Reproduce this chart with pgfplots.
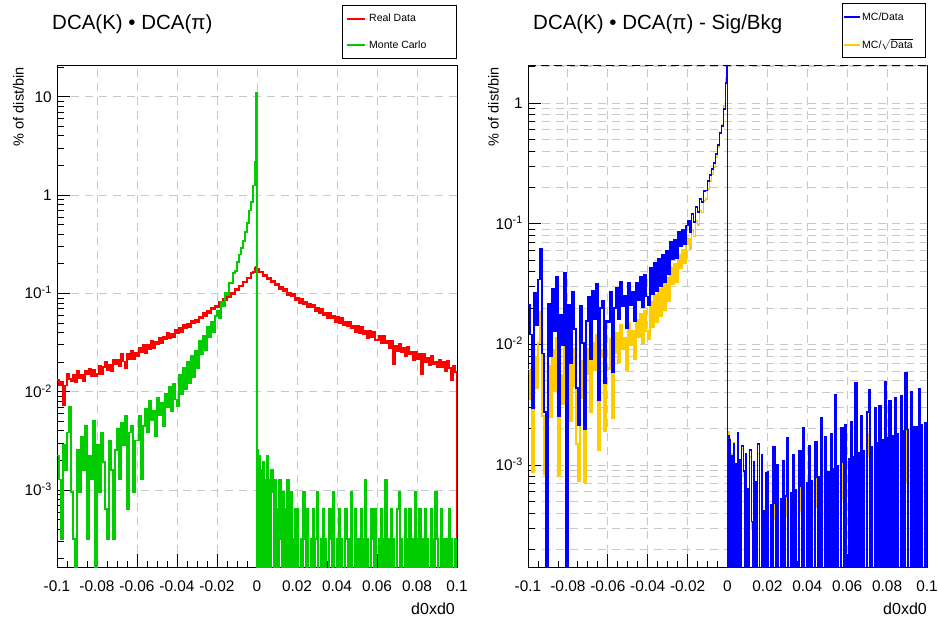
\documentclass[border=0pt]{standalone}
\usepackage{fontspec}
\setmainfont{Liberation Sans}
\usepackage{pgfplots}
\pgfplotsset{compat=1.18}
\usepackage{pgfplotstable}

\definecolor{rootred}{RGB}{255,0,0}
\definecolor{rootgreen}{RGB}{0,204,0}
\definecolor{rootblue}{RGB}{0,0,255}
\definecolor{rootyellow}{RGB}{255,204,0}
\definecolor{gridgray}{RGB}{200,200,200}

% bin low edge, Real Data, Monte Carlo, MC/Data, MC/sqrt(Data)
\pgfplotstableread{
x red mc ratio sratio
-0.100 0.0132 0.00224 0.02134 0.00618
-0.099 0.0117 0.00128 0.01205 0.00351
-0.098 0.0125 0.00032 0.002977 0.000873
-0.097 0.0074 0.00288 0.02646 0.00781
-0.096 0.0116 0.0016 0.01453 0.00431
-0.095 0.0151 0.00384 0.03444 0.01029
-0.094 0.0135 0.00704 0.06239 0.01874
-0.093 0.0129 0.00096 0.00841 0.00254
-0.092 0.0150 0.00032 0.002769 0.000842
-0.091 0.0126 1e-6 1e-6 1e-6
-0.090 0.0163 0.00256 0.02163 0.00666
-0.089 0.0138 0.00096 0.00801 0.00248
-0.088 0.0150 0.00352 0.02897 0.00903
-0.087 0.0129 0.0016 0.0130 0.00408
-0.086 0.0163 0.00448 0.03591 0.01134
-0.085 0.0150 0.00032 0.002531 0.000805
-0.084 0.0172 0.00224 0.01749 0.0056
-0.083 0.0145 0.00128 0.00986 0.00318
-0.082 0.0167 0.00512 0.03893 0.01262
-0.081 0.0146 1e-6 1e-6 1e-6
-0.080 0.0152 0.00288 0.02133 0.00701
-0.079 0.0182 0.00096 0.00696 0.00231
-0.078 0.0150 0.00384 0.02726 0.00915
-0.077 0.0180 0.00192 0.01335 0.00453
-0.076 0.0201 0.00064 0.004358 0.001493
-0.075 0.0166 0.00032 0.002133 0.000739
-0.074 0.0186 0.0032 0.02089 0.00731
-0.073 0.0161 0.0016 0.01023 0.00362
-0.072 0.0213 0.00032 0.002003 0.000716
-0.071 0.0190 0.00256 0.01569 0.00567
-0.070 0.0212 0.00416 0.02496 0.00911
-0.069 0.0184 0.00128 0.00751 0.00277
-0.068 0.0243 0.0048 0.02754 0.01028
-0.067 0.0203 0.00288 0.01616 0.0061
-0.066 0.0175 0.00576 0.03161 0.01207
-0.065 0.0241 0.00064 0.003434 0.001326
-0.064 0.0213 0.00384 0.02015 0.00787
-0.063 0.0262 0.00448 0.02299 0.00908
-0.062 0.0213 0.00096 0.004818 0.001924
-0.061 0.0249 0.0032 0.01571 0.00634
-0.060 0.0233 0.0032 0.01536 0.00627
-0.059 0.0279 0.00576 0.02698 0.01115
-0.058 0.0255 0.00128 0.005848 0.002447
-0.057 0.0302 0.00448 0.01996 0.00846
-0.056 0.0248 0.00672 0.02921 0.01253
-0.055 0.0297 0.00384 0.01628 0.00707
-0.054 0.0273 0.008 0.03313 0.01456
-0.053 0.0327 0.00512 0.02067 0.0092
-0.052 0.0280 0.0064 0.02522 0.01136
-0.051 0.0325 0.00352 0.01353 0.00617
-0.050 0.0304 0.00864 0.0324 0.01497
-0.049 0.0351 0.00576 0.02108 0.00986
-0.048 0.0313 0.00768 0.02741 0.01298
-0.047 0.0362 0.00448 0.0156 0.00748
-0.046 0.0346 0.0096 0.03261 0.01583
-0.045 0.0395 0.00704 0.02332 0.01146
-0.044 0.0349 0.0112 0.03619 0.018
-0.043 0.0392 0.0064 0.02018 0.01016
-0.042 0.0359 0.01216 0.03739 0.01907
-0.041 0.0424 0.00832 0.02496 0.01289
-0.040 0.0394 0.0072 0.02107 0.01102
-0.039 0.0442 0.0150 0.04272 0.02264
-0.038 0.0407 0.0094 0.02604 0.01399
-0.037 0.0476 0.0176 0.04743 0.02584
-0.036 0.0449 0.0105 0.02753 0.01521
-0.035 0.0489 0.0201 0.05126 0.02871
-0.034 0.0450 0.0122 0.03027 0.01719
-0.033 0.0527 0.0230 0.05552 0.03196
-0.032 0.0496 0.0141 0.03311 0.01933
-0.031 0.0541 0.0262 0.05984 0.03541
-0.030 0.0513 0.01728 0.0384 0.02304
-0.029 0.0581 0.03275 0.07035 0.04293
-0.028 0.0561 0.02431 0.05047 0.03133
-0.027 0.0634 0.03682 0.07386 0.04664
-0.026 0.0594 0.02652 0.05142 0.03303
-0.025 0.0660 0.04538 0.08504 0.05557
-0.024 0.0630 0.03573 0.06471 0.04301
-0.023 0.0720 0.05095 0.08916 0.06028
-0.022 0.0695 0.04017 0.06793 0.04672
-0.021 0.0749 0.05914 0.09669 0.06764
-0.020 0.0730 0.0667 0.1053 0.07495
-0.019 0.0821 0.0559 0.0850 0.06167
-0.018 0.0796 0.0818 0.1197 0.08852
-0.017 0.0878 0.0738 0.1039 0.07832
-0.016 0.0850 0.1012 0.1371 0.1053
-0.015 0.0966 0.0957 0.1248 0.09774
-0.014 0.0928 0.1274 0.1598 0.1276
-0.013 0.1015 0.1260 0.1520 0.1238
-0.012 0.0994 0.1611 0.1867 0.1551
-0.011 0.1109 0.1690 0.1883 0.1596
-0.010 0.1086 0.2100 0.225 0.1944
-0.009 0.1206 0.2480 0.2541 0.2245
-0.008 0.1175 0.2900 0.2843 0.2568
-0.007 0.1318 0.3400 0.3188 0.2945
-0.006 0.1312 0.4200 0.3764 0.3556
-0.005 0.1428 0.5200 0.4457 0.4306
-0.004 0.1436 0.7000 0.5676 0.5638
-0.003 0.1601 0.8500 0.65 0.665
-0.002 0.1653 1.2500 0.898 0.948
-0.001 0.1818 2.2000 1.47 1.61
-0.0004 0.1850 11.00 7.3 8.0
0.0000 0.1760 1e-6 1e-6 1e-6
0.0004 0.1760 0.00256 0.001744 0.001889
0.0007 0.1760 1e-6 1e-6 1e-6
0.001 0.1646 0.00224 0.0016 0.001693
0.0015 0.1646 1e-6 1e-6 1e-6
0.002 0.1642 0.0016 0.001193 0.001236
0.0025 0.1642 1e-6 1e-6 1e-6
0.003 0.1504 0.00192 0.001486 0.001511
0.0035 0.1504 1e-6 1e-6 1e-6
0.004 0.1545 0.00128 0.001024 0.001024
0.0045 0.1545 1e-6 1e-6 1e-6
0.005 0.1392 0.00224 0.001854 0.001823
0.0055 0.1392 1e-6 1e-6 1e-6
0.006 0.1432 0.00128 0.001105 0.001064
0.0065 0.1432 1e-6 1e-6 1e-6
0.007 0.1313 0.0016 0.001433 0.001355
0.008 0.1342 0.00096 0.000893 0.000828
0.0085 0.1342 1e-6 1e-6 1e-6
0.009 0.1203 0.00128 0.001239 0.001126
0.0095 0.1203 1e-6 1e-6 1e-6
0.010 0.1236 0.00064 0.00064 0.000572
0.0105 0.1236 1e-6 1e-6 1e-6
0.011 0.1116 0.00128 0.001322 0.001164
0.012 0.1170 0.00032 0.000341 0.000296
0.0125 0.1170 1e-6 1e-6 1e-6
0.013 0.1068 0.00096 0.001057 0.000901
0.0135 0.1068 1e-6 1e-6 1e-6
0.014 0.1108 0.00064 0.000728 0.000611
0.0145 0.1108 1e-6 1e-6 1e-6
0.015 0.0971 0.00128 0.001503 0.001241
0.016 0.1009 1e-6 1e-6 1e-6
0.017 0.0929 0.00096 0.001202 0.000961
0.0175 0.0929 1e-6 1e-6 1e-6
0.018 0.0984 0.00032 0.000414 0.000326
0.0185 0.0984 1e-6 1e-6 1e-6
0.019 0.0862 0.00064 0.000855 0.000662
0.0195 0.0862 1e-6 1e-6 1e-6
0.020 0.0905 0.00064 0.000883 0.000672
0.0205 0.0905 1e-6 1e-6 1e-6
0.021 0.0806 1e-6 1e-6 1e-6
0.022 0.0878 0.00032 0.000464 0.000345
0.0225 0.0878 1e-6 1e-6 1e-6
0.023 0.0784 0.00096 0.001426 0.001047
0.024 0.0812 0.00032 0.000487 0.000353
0.0245 0.0812 1e-6 1e-6 1e-6
0.025 0.0723 0.00064 0.000998 0.000715
0.0255 0.0723 1e-6 1e-6 1e-6
0.026 0.0788 1e-6 1e-6 1e-6
0.027 0.0718 0.00032 0.000524 0.000366
0.0275 0.0718 1e-6 1e-6 1e-6
0.028 0.0765 0.00064 0.001075 0.000742
0.0285 0.0765 1e-6 1e-6 1e-6
0.029 0.0662 0.00032 0.000551 0.000376
0.030 0.0714 0.00096 0.001694 0.001141
0.0305 0.0714 1e-6 1e-6 1e-6
0.031 0.0625 1e-6 1e-6 1e-6
0.032 0.0701 0.00032 0.000591 0.000389
0.0325 0.0701 1e-6 1e-6 1e-6
0.033 0.0609 0.00064 0.00121 0.000787
0.0335 0.0609 1e-6 1e-6 1e-6
0.034 0.0633 0.00032 0.000619 0.000398
0.0345 0.0633 1e-6 1e-6 1e-6
0.035 0.0564 1e-6 1e-6 1e-6
0.036 0.0634 0.00064 0.001297 0.000815
0.037 0.0561 0.00032 0.000664 0.000412
0.0375 0.0561 1e-6 1e-6 1e-6
0.038 0.0588 0.00096 0.002037 0.001251
0.0385 0.0588 1e-6 1e-6 1e-6
0.039 0.0508 1e-6 1e-6 1e-6
0.040 0.0572 0.00032 0.000711 0.000427
0.0405 0.0572 1e-6 1e-6 1e-6
0.041 0.0503 0.00064 0.001452 0.000862
0.0415 0.0503 1e-6 1e-6 1e-6
0.042 0.0565 0.00032 0.000741 0.000436
0.0425 0.0565 1e-6 1e-6 1e-6
0.043 0.0472 1e-6 1e-6 1e-6
0.044 0.0517 0.00064 0.001544 0.000889
0.045 0.0468 0.00032 0.000788 0.000449
0.0455 0.0468 1e-6 1e-6 1e-6
0.046 0.0516 0.00032 0.000804 0.000454
0.0465 0.0516 1e-6 1e-6 1e-6
0.047 0.0440 0.00096 0.002463 0.001376
0.0475 0.0440 1e-6 1e-6 1e-6
0.048 0.0472 1e-6 1e-6 1e-6
0.049 0.0409 0.00064 0.00171 0.000936
0.0495 0.0409 1e-6 1e-6 1e-6
0.050 0.0471 0.00032 0.000873 0.000473
0.051 0.0396 1e-6 1e-6 1e-6
0.052 0.0462 0.00064 0.001828 0.000968
0.0525 0.0462 1e-6 1e-6 1e-6
0.053 0.0390 0.00032 0.000935 0.000489
0.0535 0.0390 1e-6 1e-6 1e-6
0.054 0.0417 0.00128 0.003827 0.00198
0.0545 0.0417 1e-6 1e-6 1e-6
0.055 0.0349 0.00032 0.000979 0.000501
0.0555 0.0349 1e-6 1e-6 1e-6
0.056 0.0414 1e-6 1e-6 1e-6
0.057 0.0360 0.00064 0.00205 0.001024
0.058 0.0410 0.00032 0.001049 0.000518
0.0585 0.0410 1e-6 1e-6 1e-6
0.059 0.0333 0.00064 0.002146 0.001048
0.0595 0.0333 1e-6 1e-6 1e-6
0.060 0.0336 1e-6 1e-6 1e-6
0.061 0.0373 0.00032 0.001122 0.000536
0.0615 0.0373 1e-6 1e-6 1e-6
0.062 0.0311 0.00064 0.002294 0.001084
0.0625 0.0311 1e-6 1e-6 1e-6
0.063 0.0367 0.00032 0.001173 0.000548
0.0635 0.0367 1e-6 1e-6 1e-6
0.064 0.0310 0.00128 0.0048 0.002218
0.065 0.0329 1e-6 1e-6 1e-6
0.066 0.0275 0.00032 0.001254 0.000566
0.0665 0.0275 1e-6 1e-6 1e-6
0.067 0.0329 0.00064 0.002566 0.001146
0.0675 0.0329 1e-6 1e-6 1e-6
0.068 0.0193 0.00032 0.001312 0.00058
0.0685 0.0193 1e-6 1e-6 1e-6
0.069 0.0295 1e-6 1e-6 1e-6
0.070 0.0258 0.00064 0.002742 0.001185
0.071 0.0305 0.00096 0.004197 0.001796
0.0715 0.0305 1e-6 1e-6 1e-6
0.072 0.0256 0.00032 0.001426 0.000604
0.0725 0.0256 1e-6 1e-6 1e-6
0.073 0.0280 1e-6 1e-6 1e-6
0.074 0.0230 0.00064 0.002968 0.001233
0.0745 0.0230 1e-6 1e-6 1e-6
0.075 0.0287 0.00032 0.001514 0.000623
0.0755 0.0287 1e-6 1e-6 1e-6
0.076 0.0241 0.00064 0.003086 0.001257
0.077 0.0254 1e-6 1e-6 1e-6
0.078 0.0210 0.00032 0.001605 0.000641
0.0785 0.0210 1e-6 1e-6 1e-6
0.079 0.0256 0.00096 0.004914 0.001943
0.0795 0.0256 1e-6 1e-6 1e-6
0.080 0.0216 0.00032 0.00167 0.000654
0.0805 0.0216 1e-6 1e-6 1e-6
0.081 0.0244 0.00064 0.003396 0.001319
0.082 0.0151 1e-6 1e-6 1e-6
0.083 0.0245 0.00032 0.001754 0.00067
0.0835 0.0245 1e-6 1e-6 1e-6
0.084 0.0200 0.00064 0.003568 0.001352
0.0845 0.0200 1e-6 1e-6 1e-6
0.085 0.0222 0.00032 0.001813 0.000681
0.0855 0.0222 1e-6 1e-6 1e-6
0.086 0.0187 1e-6 1e-6 1e-6
0.087 0.0234 0.00064 0.003748 0.001385
0.0875 0.0234 1e-6 1e-6 1e-6
0.088 0.0193 0.00032 0.001906 0.000699
0.0885 0.0193 1e-6 1e-6 1e-6
0.089 0.0202 0.00096 0.005811 0.002112
0.090 0.0177 0.00032 0.001969 0.00071
0.0905 0.0177 1e-6 1e-6 1e-6
0.091 0.0212 1e-6 1e-6 1e-6
0.092 0.0180 0.00064 0.004048 0.00144
0.0925 0.0180 1e-6 1e-6 1e-6
0.093 0.0200 0.00032 0.002051 0.000725
0.0935 0.0200 1e-6 1e-6 1e-6
0.094 0.0162 0.00032 0.00208 0.00073
0.095 0.0204 1e-6 1e-6 1e-6
0.096 0.0174 0.00064 0.004276 0.00148
0.0965 0.0174 1e-6 1e-6 1e-6
0.097 0.0131 0.00032 0.002167 0.000745
0.0975 0.0131 1e-6 1e-6 1e-6
0.098 0.0184 1e-6 1e-6 1e-6
0.099 0.0160 0.00032 0.002227 0.000755
0.0995 0.0160 1e-6 1e-6 1e-6
0.100 1e-6 1e-6 1e-6 1e-6
}\dca

\newcommand{\tickfont}{\fontsize{15.4}{18}\selectfont}
\newcommand{\legfont}{\fontsize{10.5}{12}\selectfont}

\begin{document}
\begin{tikzpicture}
\path[use as bounding box] (0pt,0pt) rectangle (939pt,621pt);

% ---------- left panel ----------
\begin{axis}[name=L,
  at={(57pt,53.7pt)}, anchor=south west,
  scale only axis, width=400pt, height=501.6pt,
  xmin=-0.1, xmax=0.1,
  ymode=log, ymin=1.64e-4, ymax=20.7,
  xtick={-0.1,-0.08,-0.06,-0.04,-0.02,0,0.02,0.04,0.06,0.08,0.1},
  xticklabels={-0.1,-0.08,-0.06,-0.04,-0.02,0,0.02,0.04,0.06,0.08,0.1},
  minor x tick num=3,
  ytick={1e-3,1e-2,1e-1,1,10},
  yticklabels={10\textsuperscript{-3},10\textsuperscript{-2},10\textsuperscript{-1},1,10},
  minor ytick={2e-4,3e-4,4e-4,5e-4,6e-4,7e-4,8e-4,9e-4,
    2e-3,3e-3,4e-3,5e-3,6e-3,7e-3,8e-3,9e-3,
    0.02,0.03,0.04,0.05,0.06,0.07,0.08,0.09,
    0.2,0.3,0.4,0.5,0.6,0.7,0.8,0.9,2,3,4,5,6,7,8,9,20},
  tick align=inside, tick pos=left,
  major tick length=13pt, minor tick length=6.5pt,
  tick style={black, line width=0.8pt},
  axis line style={black, line width=1pt},
  xmajorgrids, ymajorgrids,
  major grid style={gridgray, line width=1pt, dash pattern=on 8pt off 6pt},
  xticklabel style={font=\tickfont, inner sep=0pt, anchor=north, yshift=-13.4pt},
  yticklabel style={font=\tickfont, inner sep=0pt, anchor=base east, xshift=-5pt, yshift=-5.5pt},
]
\addplot[rootred, const plot, line width=1.8pt] table[x=x, y=red] {\dca};
\addplot[rootgreen, const plot, line width=1.6pt] table[x=x, y=mc] {\dca};
\end{axis}

% ---------- right panel ----------
\begin{axis}[name=R,
  at={(528pt,53.7pt)}, anchor=south west,
  scale only axis, width=399pt, height=501.6pt,
  xmin=-0.1, xmax=0.1,
  ymode=log, ymin=1.42e-4, ymax=2.04,
  xtick={-0.1,-0.08,-0.06,-0.04,-0.02,0,0.02,0.04,0.06,0.08,0.1},
  xticklabels={-0.1,-0.08,-0.06,-0.04,-0.02,0,0.02,0.04,0.06,0.08,0.1},
  minor x tick num=3,
  ytick={1e-3,1e-2,1e-1,1},
  yticklabels={10\textsuperscript{-3},10\textsuperscript{-2},10\textsuperscript{-1},1},
  minor ytick={2e-4,3e-4,4e-4,5e-4,6e-4,7e-4,8e-4,9e-4,
    2e-3,3e-3,4e-3,5e-3,6e-3,7e-3,8e-3,9e-3,
    0.02,0.03,0.04,0.05,0.06,0.07,0.08,0.09,
    0.2,0.3,0.4,0.5,0.6,0.7,0.8,0.9,2},
  tick align=inside, tick pos=left,
  major tick length=13pt, minor tick length=6.5pt,
  tick style={black, line width=0.8pt},
  axis line style={black, line width=1pt},
  xmajorgrids, ymajorgrids, yminorgrids,
  major grid style={gridgray, line width=1pt, dash pattern=on 8pt off 6pt},
  minor grid style={gridgray, line width=1pt, dash pattern=on 8pt off 6pt},
  xticklabel style={font=\tickfont, inner sep=0pt, anchor=north, yshift=-13.4pt},
  yticklabel style={font=\tickfont, inner sep=0pt, anchor=base east, xshift=-5pt, yshift=-5.5pt},
]
\addplot[rootyellow, const plot, line width=1.8pt] table[x=x, y=sratio] {\dca};
\addplot[rootblue, const plot, line width=1.8pt] table[x=x, y=ratio] {\dca};
\end{axis}

% dashed top edge of the right frame
\draw[white, line width=1.4pt] (R.north west) -- (R.north east);
\draw[gridgray, line width=1pt] (R.north west) -- (R.north east);
\draw[black, line width=1pt, dash pattern=on 8pt off 5pt] (R.north west) -- (R.north east);

% titles
\node[anchor=base west, inner sep=0pt, font=\fontsize{20.5}{24}\selectfont] at (52pt,591pt) {DCA(K) • DCA(π)};
\node[anchor=base west, inner sep=0pt, font=\fontsize{20.5}{24}\selectfont] at (533pt,591pt) {DCA(K) • DCA(π) - Sig/Bkg};

% axis titles
\node[anchor=base east, inner sep=0pt, font=\fontsize{16}{18}\selectfont] at (455pt,6.7pt) {d0xd0};
\node[anchor=base east, inner sep=0pt, font=\fontsize{16}{18}\selectfont] at (927pt,6.7pt) {d0xd0};
\node[rotate=90, anchor=base east, inner sep=0pt, font=\fontsize{14.5}{16}\selectfont] at (23.6pt,554pt) {\% of dist/bin};
\node[rotate=90, anchor=base east, inner sep=0pt, font=\fontsize{14.5}{16}\selectfont] at (498.6pt,554pt) {\% of dist/bin};

% legends
\draw[black, line width=1pt, fill=white] (342pt,562pt) rectangle (456pt,615pt);
\draw[rootred, line width=2pt] (347pt,602pt) -- (365pt,602pt);
\node[anchor=base west, inner sep=0pt, font=\legfont] at (369pt,599.5pt) {Real Data};
\draw[rootgreen, line width=2pt] (347pt,576pt) -- (365pt,576pt);
\node[anchor=base west, inner sep=0pt, font=\legfont] at (369pt,572.7pt) {Monte Carlo};

\draw[black, line width=1pt, fill=white] (842pt,563.5pt) rectangle (925.5pt,617pt);
\draw[rootblue, line width=2pt] (844pt,604pt) -- (860pt,604pt);
\node[anchor=base west, inner sep=0pt, font=\legfont] at (862pt,600.3pt) {MC/Data};
\draw[rootyellow, line width=2pt] (844pt,576pt) -- (860pt,576pt);
\node[anchor=base west, inner sep=0pt, font=\legfont] at (862pt,572.7pt) {MC/$\sqrt{\mbox{Data}}$};
\end{tikzpicture}
\end{document}
